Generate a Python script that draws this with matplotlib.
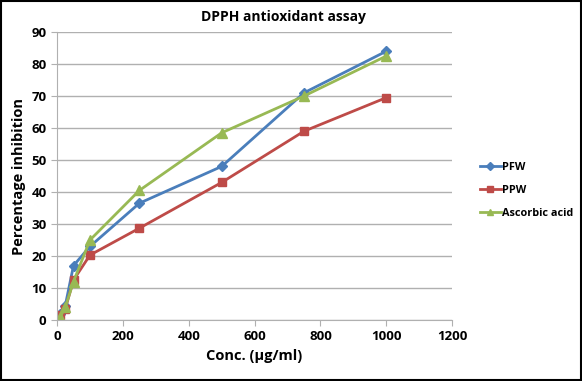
import matplotlib
matplotlib.use("Agg")
import matplotlib.pyplot as plt
from matplotlib.patches import Rectangle

plt.rcParams['font.family'] = ['Open Sans', 'DejaVu Sans']

# concentraciones (µg/ml)
conc = [10, 25, 50, 100, 250, 500, 750, 1000]
pfw = [2.0, 4.5, 17.0, 23.0, 36.5, 48.0, 71.0, 84.0]
ppw = [1.5, 3.5, 12.5, 20.3, 28.7, 43.0, 59.0, 69.5]
ascorbic = [1.0, 4.0, 12.0, 25.0, 40.5, 58.5, 70.0, 82.5]

x_ticks = [0, 200, 400, 600, 800, 1000, 1200]
y_ticks = [0, 10, 20, 30, 40, 50, 60, 70, 80, 90]

fig = plt.figure(figsize=(5.82, 3.81), dpi=100)
ax = fig.add_axes([0.098, 0.160, 0.679, 0.756])

ax.plot(conc, pfw, color='#4a7ebb', marker='D', markersize=5, linewidth=2, label='PFW')
ax.plot(conc, ppw, color='#be4b48', marker='s', markersize=6, linewidth=2, label='PPW')
ax.plot(conc, ascorbic, color='#98b954', marker='^', markersize=7, linewidth=2, label='Ascorbic acid')

ax.set_xlim(0, 1200)
ax.set_ylim(0, 90)
ax.set_xticks(x_ticks)
ax.set_yticks(y_ticks)
ax.yaxis.grid(True, color='#b0b0b0', linewidth=1)
ax.set_axisbelow(True)
for s in ['top', 'right']:
    ax.spines[s].set_visible(False)
for s in ['left', 'bottom']:
    ax.spines[s].set_color('#b0b0b0')
ax.tick_params(axis='both', colors='#b0b0b0', labelcolor='black', length=4, labelsize=9.5)
for lbl in ax.get_xticklabels() + ax.get_yticklabels():
    lbl.set_fontweight('bold')

fig.text(0.487, 0.955, 'DPPH antioxidant assay', ha='center', va='center',
         fontsize=10, fontweight='bold')
ax.set_xlabel('Conc. (µg/ml)', fontsize=10.5, fontweight='bold')
ax.set_ylabel('Percentage inhibition', fontsize=10.5, fontweight='bold')

leg = fig.legend(loc='upper left', bbox_to_anchor=(0.825, 0.575), frameon=False,
                 prop={'weight': 'bold', 'size': 7.8}, handlelength=1.9,
                 labelspacing=1.1, handletextpad=0.1, borderpad=0, borderaxespad=0)
for h in leg.legend_handles:
    h.set_markersize(4.5)

# marco exterior
fig.patches.append(Rectangle((0.002, 0.003), 0.996, 0.994, transform=fig.transFigure,
                             fill=False, edgecolor='black', linewidth=1.5))

plt.savefig('out.png', dpi=100)
